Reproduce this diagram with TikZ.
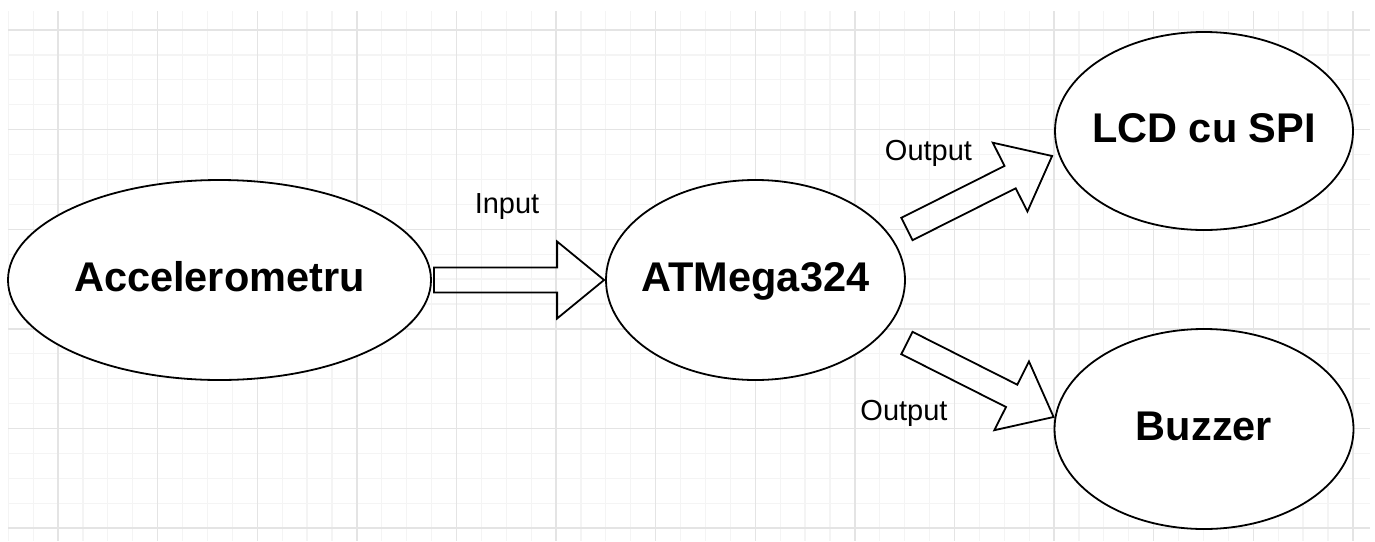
\documentclass[tikz,border=0pt]{standalone}
\usepackage{fontspec}
\setmainfont{Liberation Sans}
\usetikzlibrary{shapes.geometric,calc}
\definecolor{gridmajor}{HTML}{E4E4E4}
\definecolor{gridminor}{HTML}{F4F4F4}
\tikzset{
  minorgrid/.style={draw=gridminor,line width=1.2pt},
  majorgrid/.style={draw=gridmajor,line width=1.4pt},
  blob/.style={ellipse,draw=black,fill=white,line width=1.8pt,inner sep=0pt,
    text height=22pt,text depth=0pt,font=\fontsize{41.5}{48}\selectfont\bfseries},
  fatline/.style={draw=black,line width=1.8pt,line join=miter},
  lbl/.style={font=\fontsize{29}{34}\selectfont,inner sep=0pt,anchor=base}
}
\newcommand{\fatarrow}[2]{%
  \coordinate (hb) at ($(#2)!47pt!(#1)$);
  \draw[fatline] ($(#1)!12.5pt!90:(#2)$) -- ($(hb)!12.5pt!90:(#2)$)
    -- ($(hb)!38.5pt!90:(#2)$) -- (#2) -- ($(hb)!38.5pt!-90:(#2)$)
    -- ($(hb)!12.5pt!-90:(#2)$) -- ($(#1)!12.5pt!-90:(#2)$) -- cycle;}
\begin{document}
\begin{tikzpicture}[x=1pt,y=-1pt]
\useasboundingbox (0,0) rectangle (1375,541);
\fill[white] (0,0) rectangle (1375,541);
\begin{scope}
  \clip (8,11) rectangle (1370,541);
  \foreach \i in {-2,...,53} \draw[minorgrid] ({58+24.9*\i},11) -- ({58+24.9*\i},541);
  \foreach \j in {-1,...,21} \draw[minorgrid] (8,{30+24.9*\j}) -- (1370,{30+24.9*\j});
  \foreach \i in {0,...,13} \draw[majorgrid] ({58+99.6*\i},11) -- ({58+99.6*\i},541);
  \foreach \j in {0,...,5} \draw[majorgrid] (8,{30+99.6*\j}) -- (1370,{30+99.6*\j});
\end{scope}

\node[blob,minimum width=423pt,minimum height=200pt] (acc) at (219.5,280) {\makebox[0pt]{Accelerometru}};
\node[blob,minimum width=299pt,minimum height=200pt] (atm) at (755.5,280) {\makebox[0pt]{ATMega324}};
\node[blob,minimum width=298pt,minimum height=198pt] (lcd) at (1204,131) {\makebox[0pt]{LCD cu SPI}};
\node[blob,minimum width=299pt,minimum height=200pt] (buz) at (1204,429) {\makebox[0pt]{Buzzer}};

\coordinate (in0) at ($(acc.east)+(2,0)$);
\coordinate (in1) at ($(atm.west)+(-1,0)$);
\coordinate (o1a) at ($(atm.east)+(1,-51)$);
\coordinate (o1b) at ($(lcd.west)+(-2,25)$);
\coordinate (o2a) at ($(atm.east)+(1,63)$);
\coordinate (o2b) at ($(buz.west)+(0,-12)$);

\fatarrow{in0}{in1}
\fatarrow{o1a}{o1b}
\fatarrow{o2a}{o2b}

\node[lbl] (linput) at (507,213) {Input};
\node[lbl] (lout1) at (928.5,160) {Output};
\node[lbl] (lout2) at (904,420) {Output};
\end{tikzpicture}
\end{document}
